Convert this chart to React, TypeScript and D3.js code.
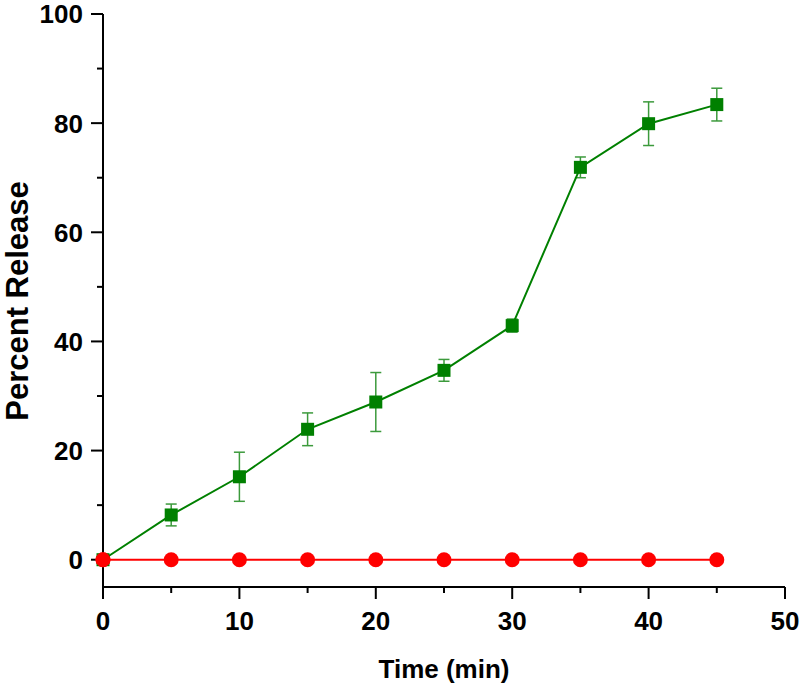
import React, { useEffect } from "react";
import * as d3 from "d3";

const times = [0, 5, 10, 15, 20, 25, 30, 35, 40, 45];
const greenMeans = [0, 8.2, 15.2, 23.9, 28.9, 34.7, 42.9, 71.9, 79.9, 83.4];
const greenErrs = [0, 2.0, 4.5, 3.0, 5.4, 2.0, 1.2, 1.9, 4.0, 3.0];
const redMeans = [0, 0, 0, 0, 0, 0, 0, 0, 0, 0];
const xMajorTicks = [0, 10, 20, 30, 40, 50];
const xMinorTicks = [5, 15, 25, 35, 45];
const yMajorTicks = [0, 20, 40, 60, 80, 100];
const yMinorTicks = [10, 30, 50, 70, 90];

const W = 800;
const H = 689;
const FONT = "'Liberation Sans', Arial, sans-serif";

export default function App() {
  useEffect(() => {
    document.body.style.margin = "0";
  }, []);

  const x = d3.scaleLinear().domain([0, 50]).range([103, 785]);
  const y = d3.scaleLinear().domain([-5, 100]).range([587, 14]);

  const line = d3
    .line<number>()
    .x((_, i) => x(times[i]))
    .y((d) => y(d));

  const x0 = x(0);
  const yb = y(-5);

  return (
    <svg width={W} height={H} style={{ display: "block", background: "#fff" }}>
      {/* axes */}
      <line x1={x0} x2={x0} y1={y(100)} y2={yb + 1} stroke="#000" strokeWidth={2} />
      <line x1={x0 - 1} x2={x(50)} y1={yb} y2={yb} stroke="#000" strokeWidth={2} />
      {yMajorTicks.map((t) => (
        <g key={"ym" + t}>
          <line x1={x0 - 12} x2={x0} y1={y(t)} y2={y(t)} stroke="#000" strokeWidth={2} />
          <text
            x={x0 - 20}
            y={y(t)}
            dy="0.36em"
            textAnchor="end"
            fontFamily={FONT}
            fontWeight="bold"
            fontSize={26}
          >
            {t}
          </text>
        </g>
      ))}
      {yMinorTicks.map((t) => (
        <line key={"yn" + t} x1={x0 - 6} x2={x0} y1={y(t)} y2={y(t)} stroke="#000" strokeWidth={2} />
      ))}
      {xMajorTicks.map((t) => (
        <g key={"xm" + t}>
          <line x1={x(t)} x2={x(t)} y1={yb} y2={yb + 12} stroke="#000" strokeWidth={2} />
          <text
            x={x(t)}
            y={630}
            textAnchor="middle"
            fontFamily={FONT}
            fontWeight="bold"
            fontSize={26}
          >
            {t}
          </text>
        </g>
      ))}
      {xMinorTicks.map((t) => (
        <line key={"xn" + t} x1={x(t)} x2={x(t)} y1={yb} y2={yb + 6} stroke="#000" strokeWidth={2} />
      ))}

      {/* axis titles */}
      <text
        x={444}
        y={678}
        textAnchor="middle"
        fontFamily={FONT}
        fontWeight="bold"
        fontSize={26}
      >
        Time (min)
      </text>
      <text
        transform={`translate(28, 301) rotate(-90)`}
        textAnchor="middle"
        fontFamily={FONT}
        fontWeight="bold"
        fontSize={31}
      >
        Percent Release
      </text>

      {/* red series */}
      <path d={line(redMeans) || ""} fill="none" stroke="#ff0000" strokeWidth={2} />
      {redMeans.map((v, i) => (
        <circle key={"r" + i} cx={x(times[i])} cy={y(v)} r={7.5} fill="#ff0000" />
      ))}

      {/* green series */}
      {greenMeans.map((v, i) =>
        greenErrs[i] > 0 ? (
          <g key={"e" + i} stroke="#3c9a3c" strokeWidth={1.5}>
            <line x1={x(times[i])} x2={x(times[i])} y1={y(v + greenErrs[i])} y2={y(v - greenErrs[i])} />
            <line x1={x(times[i]) - 5.5} x2={x(times[i]) + 5.5} y1={y(v + greenErrs[i])} y2={y(v + greenErrs[i])} />
            <line x1={x(times[i]) - 5.5} x2={x(times[i]) + 5.5} y1={y(v - greenErrs[i])} y2={y(v - greenErrs[i])} />
          </g>
        ) : null
      )}
      <path d={line(greenMeans) || ""} fill="none" stroke="#008000" strokeWidth={2} />
      {greenMeans.map((v, i) => (
        <rect
          key={"g" + i}
          x={x(times[i]) - 6.5}
          y={y(v) - 6.5}
          width={13}
          height={13}
          fill="#008000"
        />
      ))}
      <circle cx={x(times[0])} cy={y(redMeans[0])} r={7.5} fill="#ff0000" />
    </svg>
  );
}
